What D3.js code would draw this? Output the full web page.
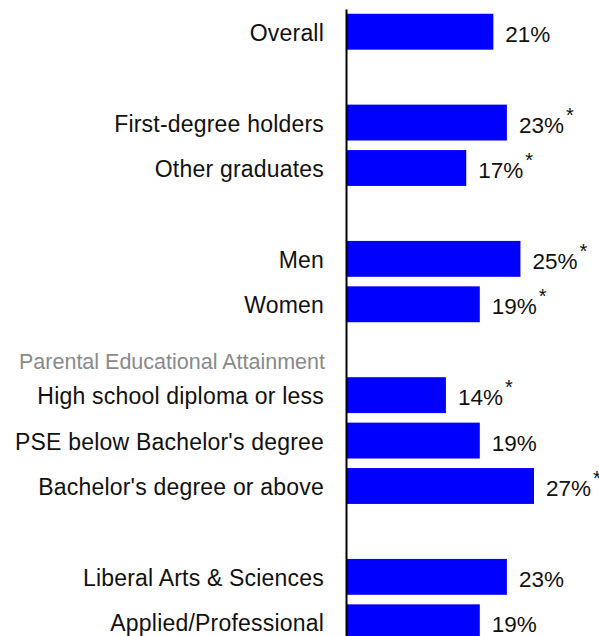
<!DOCTYPE html>
<html>
<head>
<meta charset="utf-8">
<script src="https://cdn.jsdelivr.net/npm/d3@7/dist/d3.min.js"></script>
<style>
  html, body { margin: 0; padding: 0; background: #fff; }
  svg { display: block; }
  text { font-family: "Liberation Sans", Arial, Helvetica, sans-serif; }
</style>
</head>
<body>
<svg id="chart" width="599" height="636"></svg>
<script>
// Share of respondents by group (percent); groups are separated by a blank row.
const groupHeaders = ["", "", "", "Parental Educational Attainment", ""];
const groupCategories = [
  ["Overall"],
  ["First-degree holders", "Other graduates"],
  ["Men", "Women"],
  ["High school diploma or less", "PSE below Bachelor's degree", "Bachelor's degree or above"],
  ["Liberal Arts & Sciences", "Applied/Professional"]
];
const groupValues = [
  [21],
  [23, 17],
  [25, 19],
  [14, 19, 27],
  [23, 19]
];
// Statistically significant differences are flagged with an asterisk.
const groupSignificant = [
  [false],
  [true, true],
  [true, true],
  [true, false, true],
  [false, false]
];
const valueSuffix = "%";
const flagMark = "*";

// Flatten groups into rows, inserting a spacer slot (optionally holding a header) before each later group.
const rows = [];
const spacers = [];
groupCategories.forEach((cats, g) => {
  if (g > 0) {
    const key = "spacer-" + g;
    rows.push(key);
    spacers.push({ key, header: groupHeaders[g] });
  }
  cats.forEach((c, i) => rows.push({ key: c, name: c, value: groupValues[g][i], flag: groupSignificant[g][i] }));
});
const slotKeys = rows.map(r => typeof r === "string" ? r : r.key);
const bars = rows.filter(r => typeof r !== "string");

const svg = d3.select("#chart");

const y = d3.scaleBand()
  .domain(slotKeys)
  .range([9, 645])
  .paddingInner(0.21)
  .paddingOuter(0.105);

const x = d3.scaleLinear()
  .domain([-0.6, 27])
  .range([347, 534]);

// Bars
svg.append("g")
  .selectAll("rect")
  .data(bars)
  .join("rect")
  .attr("x", x(x.domain()[0]))
  .attr("y", d => y(d.key))
  .attr("width", d => x(d.value) - x(x.domain()[0]))
  .attr("height", y.bandwidth())
  .attr("fill", "#0000ff");

// Vertical axis line
const axis = svg.append("g")
  .attr("transform", `translate(${x(x.domain()[0]) - 1},0)`)
  .call(d3.axisLeft(y).tickSize(0).tickSizeOuter(0).tickFormat(""));
axis.select(".domain").attr("stroke", "#000").attr("stroke-width", 2);
axis.selectAll(".tick").remove();

// Category labels
svg.append("g")
  .selectAll("text")
  .data(bars)
  .join("text")
  .attr("x", 324)
  .attr("y", d => y(d.key) + y.bandwidth() / 2 + 9)
  .attr("text-anchor", "end")
  .attr("font-size", 23)
  .attr("letter-spacing", 0.2)
  .attr("fill", "#111")
  .text(d => d.name);

// Group headers
svg.append("g")
  .selectAll("text")
  .data(spacers.filter(s => s.header))
  .join("text")
  .attr("x", 325)
  .attr("y", d => y(d.key) + y.bandwidth() / 2 + 19)
  .attr("text-anchor", "end")
  .attr("font-size", 21.5)
  .attr("fill", "#8a8a8a")
  .text(d => d.header);

// Value labels with significance flags
const vl = svg.append("g")
  .selectAll("text")
  .data(bars)
  .join("text")
  .attr("x", d => x(d.value) + 12)
  .attr("y", d => y(d.key) + y.bandwidth() / 2 + 10)
  .attr("font-size", 22.5)
  .attr("fill", "#111");
vl.append("tspan").text(d => d.value + valueSuffix);
vl.filter(d => d.flag)
  .append("tspan")
  .attr("dx", 2)
  .attr("dy", -11)
  .attr("font-size", 20)
  .text(flagMark);
</script>
</body>
</html>
